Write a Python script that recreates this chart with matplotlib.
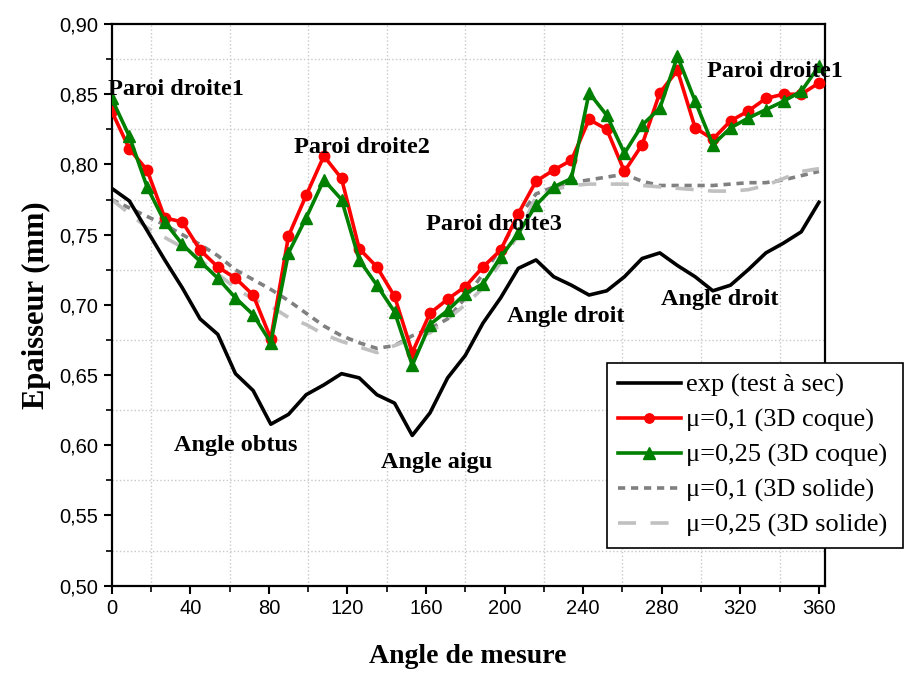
#Thickness vs measuring angle: experiment vs 3D shell / 3D solid models
import numpy as np
import matplotlib
matplotlib.use('Agg')
import matplotlib.pyplot as plt
from matplotlib.ticker import MultipleLocator, FuncFormatter

angles = list(range(0, 361, 9))

exp_sec = [0.783, 0.774, 0.753, 0.732, 0.712, 0.690, 0.679, 0.651, 0.639, 0.615,
           0.622, 0.636, 0.643, 0.651, 0.648, 0.636, 0.630, 0.607, 0.623, 0.648,
           0.664, 0.687, 0.705, 0.726, 0.732, 0.720, 0.714, 0.707, 0.710, 0.720,
           0.733, 0.737, 0.728, 0.720, 0.710, 0.714, 0.725, 0.737, 0.744, 0.752,
           0.773]

coque_01 = [0.838, 0.811, 0.796, 0.762, 0.759, 0.739, 0.727, 0.719, 0.707, 0.676,
            0.749, 0.778, 0.806, 0.790, 0.740, 0.727, 0.706, 0.666, 0.694, 0.704,
            0.713, 0.727, 0.739, 0.765, 0.788, 0.796, 0.803, 0.832, 0.825, 0.795,
            0.814, 0.851, 0.867, 0.826, 0.818, 0.831, 0.838, 0.847, 0.850, 0.850,
            0.858]

coque_025 = [0.847, 0.820, 0.784, 0.759, 0.743, 0.731, 0.719, 0.705, 0.693, 0.673,
             0.737, 0.762, 0.789, 0.775, 0.732, 0.714, 0.695, 0.657, 0.686, 0.696,
             0.708, 0.715, 0.734, 0.751, 0.771, 0.784, 0.790, 0.851, 0.835, 0.808,
             0.828, 0.840, 0.877, 0.845, 0.814, 0.826, 0.833, 0.839, 0.845, 0.852,
             0.870]

solide_01 = [0.775, 0.769, 0.763, 0.757, 0.750, 0.743, 0.735, 0.725, 0.718, 0.711,
             0.703, 0.694, 0.685, 0.678, 0.673, 0.669, 0.671, 0.678, 0.683, 0.690,
             0.705, 0.722, 0.740, 0.762, 0.779, 0.784, 0.787, 0.789, 0.791, 0.793,
             0.788, 0.785, 0.785, 0.785, 0.785, 0.786, 0.787, 0.787, 0.789, 0.792,
             0.795]

solide_025 = [0.775, 0.765, 0.755, 0.748, 0.741, 0.732, 0.722, 0.712, 0.704, 0.699,
              0.691, 0.686, 0.679, 0.674, 0.670, 0.666, 0.671, 0.676, 0.680, 0.690,
              0.700, 0.712, 0.730, 0.750, 0.777, 0.782, 0.785, 0.786, 0.786, 0.786,
              0.785, 0.784, 0.783, 0.782, 0.781, 0.781, 0.782, 0.785, 0.790, 0.795,
              0.797]

labels = ['exp (test à sec)', 'μ=0,1 (3D coque)', 'μ=0,25 (3D coque)',
          'μ=0,1 (3D solide)', 'μ=0,25 (3D solide)']

notes = [('Paroi droite1', -2, 0.853, 'left'),
         ('Paroi droite2', 127.5, 0.812, 'center'),
         ('Paroi droite3', 194.5, 0.757, 'center'),
         ('Paroi droite1', 303, 0.866, 'left'),
         ('Angle obtus', 63, 0.5995, 'center'),
         ('Angle aigu', 165.5, 0.588, 'center'),
         ('Angle droit', 231, 0.692, 'center'),
         ('Angle droit', 309.5, 0.704, 'center')]

serif = 'Liberation Serif'
sans = 'Liberation Sans'

fig = plt.figure(figsize=(9.05, 6.74), dpi=100)
ax = fig.add_axes([0.1234, 0.131, 0.788, 0.8334])

ax.plot(angles, exp_sec, color='black', lw=2.6, label=labels[0], zorder=3)
ax.plot(angles, coque_01, color='#ff0000', lw=2.6, marker='o', ms=7.5,
        label=labels[1], zorder=4)
ax.plot(angles, coque_025, color='#008000', lw=2.6, marker='^', ms=9,
        label=labels[2], zorder=5)
ax.plot(angles, solide_01, color='#808080', lw=2.6, ls=(0, (2, 1.6)),
        label=labels[3], zorder=2)
ax.plot(angles, solide_025, color='#c0c0c0', lw=2.6, ls=(0, (5, 4)),
        label=labels[4], zorder=2)

ax.set_xlim(0, 363)
ax.set_ylim(0.50, 0.90)
ax.xaxis.set_major_locator(MultipleLocator(40))
ax.xaxis.set_minor_locator(MultipleLocator(20))
ax.yaxis.set_major_locator(MultipleLocator(0.05))
ax.yaxis.set_minor_locator(MultipleLocator(0.025))
ax.yaxis.set_major_formatter(FuncFormatter(lambda v, p: ('%.2f' % v).replace('.', ',')))
ax.tick_params(which='major', direction='out', length=6, width=1.5,
               labelsize=14.5, top=False, right=False)
ax.tick_params(which='minor', direction='out', length=4, width=1.2,
               top=False, right=False)
for lab in ax.get_xticklabels() + ax.get_yticklabels():
    lab.set_family(sans)
ax.grid(which='minor', ls=':', color='#c8c8c8', lw=1)
ax.grid(which='major', visible=False)
for s in ax.spines.values():
    s.set_linewidth(1.6)

ax.set_xlabel('Angle de mesure', family=serif, weight='bold', fontsize=20, labelpad=19)
ax.set_ylabel('Epaisseur (mm)', family=serif, weight='bold', fontsize=22, labelpad=6)

for txt, x, y, ha in notes:
    ax.text(x, y, txt, family=serif, weight='bold', fontsize=17.5, ha=ha,
            va='center', clip_on=False, zorder=6)

leg = ax.legend(loc='upper left', bbox_to_anchor=(0.671, 0.187, 0.327, 0.2745),
                bbox_transform=fig.transFigure, mode='expand', frameon=True,
                fancybox=False, edgecolor='black', framealpha=1,
                prop={'family': serif, 'size': 19}, handlelength=2.4,
                handletextpad=0.2, labelspacing=0.42, borderaxespad=0,
                borderpad=0.4, markerscale=0.9)
leg.get_frame().set_linewidth(1.2)

plt.savefig('out.png', dpi=100)
